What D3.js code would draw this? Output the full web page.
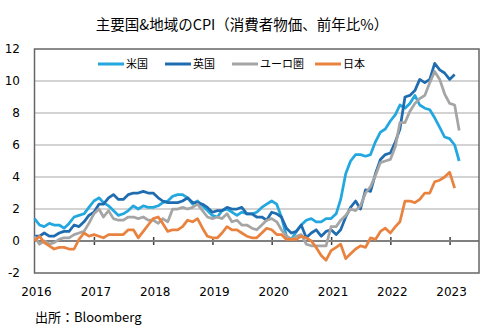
<!DOCTYPE html>
<html>
<head>
<meta charset="utf-8">
<script src="https://cdn.jsdelivr.net/npm/d3@7"></script>
<style>
  body { margin: 0; background: #fff; }
  svg { display: block; }
  .jp { font-family: "Noto Sans CJK JP", sans-serif; }
  .num { font-family: "DejaVu Sans", sans-serif; font-size: 12px; }
</style>
</head>
<body>
<div id="chart"></div>
<script>
// CPI, year-on-year %, monthly from Jan 2016
var us = [1.4, 1.0, 0.9, 1.1, 1.0, 1.0, 0.8, 1.1, 1.5, 1.6, 1.7, 2.1,
          2.5, 2.7, 2.4, 2.2, 1.9, 1.6, 1.7, 1.9, 2.2, 2.0, 2.2, 2.1,
          2.1, 2.2, 2.4, 2.5, 2.8, 2.9, 2.9, 2.7, 2.3, 2.5, 2.2, 1.9,
          1.6, 1.5, 1.9, 2.0, 1.8, 1.6, 1.8, 1.7, 1.7, 1.8, 2.1, 2.3,
          2.5, 2.3, 1.5, 0.3, 0.1, 0.6, 1.0, 1.3, 1.4, 1.2, 1.2, 1.4,
          1.4, 1.7, 2.6, 4.2, 5.0, 5.4, 5.4, 5.3, 5.4, 6.2, 6.8, 7.0,
          7.5, 7.9, 8.5, 8.3, 8.6, 9.1, 8.5, 8.3, 8.2, 7.7, 7.1, 6.5,
          6.4, 6.0, 5.0];
var uk = [0.3, 0.3, 0.5, 0.3, 0.3, 0.5, 0.6, 0.6, 1.0, 0.9, 1.2, 1.6,
          1.8, 2.3, 2.3, 2.7, 2.9, 2.6, 2.6, 2.9, 3.0, 3.0, 3.1, 3.0,
          3.0, 2.7, 2.5, 2.4, 2.4, 2.4, 2.5, 2.7, 2.4, 2.4, 2.3, 2.1,
          1.8, 1.9, 1.9, 2.1, 2.0, 2.0, 2.1, 1.7, 1.7, 1.5, 1.5, 1.3,
          1.8, 1.7, 1.5, 0.8, 0.5, 0.6, 1.0, 0.2, 0.5, 0.7, 0.3, 0.6,
          0.7, 0.4, 0.7, 1.5, 2.1, 2.5, 2.0, 3.2, 3.1, 4.2, 5.1, 5.4,
          5.5, 6.2, 7.0, 9.0, 9.1, 9.4, 10.1, 9.9, 10.1, 11.1, 10.7, 10.5,
          10.1, 10.4];
var euro = [0.3, -0.2, 0.0, -0.2, -0.1, 0.1, 0.2, 0.2, 0.4, 0.5, 0.6, 1.1,
            1.7, 2.0, 1.5, 1.9, 1.4, 1.3, 1.3, 1.5, 1.5, 1.4, 1.5, 1.3,
            1.3, 1.1, 1.4, 1.2, 2.0, 2.0, 2.1, 2.0, 2.1, 2.3, 1.9, 1.5,
            1.4, 1.5, 1.4, 1.7, 1.2, 1.3, 1.0, 1.0, 0.8, 0.7, 1.0, 1.3,
            1.4, 1.2, 0.7, 0.3, 0.1, 0.3, 0.4, -0.2, -0.3, -0.3, -0.3, -0.3,
            0.9, 0.9, 1.3, 1.6, 2.0, 1.9, 2.2, 3.0, 3.4, 4.1, 4.9, 5.0,
            5.1, 5.9, 7.4, 7.4, 8.1, 8.6, 8.9, 9.1, 9.9, 10.6, 10.1, 9.2,
            8.6, 8.5, 6.9];
var japan = [0.0, 0.3, -0.1, -0.3, -0.5, -0.4, -0.4, -0.5, -0.5, 0.1, 0.5, 0.3,
             0.4, 0.3, 0.2, 0.4, 0.4, 0.4, 0.4, 0.7, 0.7, 0.2, 0.6, 1.0,
             1.4, 1.5, 1.1, 0.6, 0.7, 0.7, 0.9, 1.3, 1.2, 1.4, 0.8, 0.3,
             0.2, 0.2, 0.5, 0.9, 0.7, 0.7, 0.5, 0.3, 0.2, 0.2, 0.5, 0.8,
             0.7, 0.4, 0.4, 0.1, 0.1, 0.1, 0.3, 0.2, 0.0, -0.4, -0.9, -1.2,
             -0.6, -0.4, -0.2, -1.1, -0.8, -0.5, -0.3, -0.4, 0.2, 0.1, 0.6, 0.8,
             0.5, 0.9, 1.2, 2.5, 2.5, 2.4, 2.6, 3.0, 3.0, 3.7, 3.8, 4.0,
             4.3, 3.3];

var seriesNames = ["米国", "英国", "ユーロ圏", "日本"];
var yearLabels = [2016, 2017, 2018, 2019, 2020, 2021, 2022, 2023];
var yTicks = [-2, 0, 2, 4, 6, 8, 10, 12];

var colors = ["#22a7df", "#1f6cb0", "#a5a5a5", "#e9823f"];
var series = [us, uk, euro, japan];

var width = 493, height = 330;
var svg = d3.select("#chart").append("svg")
    .attr("width", width)
    .attr("height", height);

var x = d3.scaleTime()
    .domain([new Date(2016, 0, 1), new Date(2023, 6, 1)])
    .range([34.5, 479]);
var y = d3.scaleLinear()
    .domain([-2, 12])
    .range([273, 49]);

function monthDate(i) { return new Date(2016, i, 1); }

// horizontal gridlines
svg.append("g").selectAll("line")
    .data(yTicks.filter(function(d) { return d > -2 && d < 12 && d !== 0; }))
    .enter().append("line")
    .attr("x1", x.range()[0]).attr("x2", x.range()[1])
    .attr("y1", function(d) { return y(d); })
    .attr("y2", function(d) { return y(d); })
    .attr("stroke", "#c4c4c4")
    .attr("stroke-width", 1.5);

// y labels
svg.append("g").selectAll("text")
    .data(yTicks)
    .enter().append("text")
    .attr("class", "num")
    .attr("x", 20)
    .attr("y", function(d) { return y(d); })
    .attr("dy", "0.36em")
    .attr("text-anchor", "end")
    .text(function(d) { return d; });

// zero axis with crossing year ticks
var xAxis = d3.axisBottom(x)
    .tickValues(yearLabels.slice(1).map(function(yr) { return new Date(yr, 0, 1); }))
    .tickSize(8)
    .tickSizeOuter(0)
    .tickFormat("");
var ax = svg.append("g")
    .attr("transform", "translate(0," + (y(0) - 4) + ")")
    .call(xAxis);
ax.select(".domain").remove();
ax.selectAll(".tick line").attr("stroke", "#404040").attr("stroke-width", 1.5);
svg.append("line")
    .attr("x1", x.range()[0]).attr("x2", x.range()[1])
    .attr("y1", y(0)).attr("y2", y(0))
    .attr("stroke", "#808080")
    .attr("stroke-width", 2);

// year labels
svg.append("g").selectAll("text")
    .data(yearLabels)
    .enter().append("text")
    .attr("class", "num")
    .attr("x", function(d) { return x(new Date(d, 0, 1)) + 2; })
    .attr("y", 292)
    .attr("dy", "0.36em")
    .attr("text-anchor", "middle")
    .text(function(d) { return d; });

// plot frame
svg.append("rect")
    .attr("x", x.range()[0]).attr("y", y(12))
    .attr("width", x.range()[1] - x.range()[0])
    .attr("height", y(-2) - y(12))
    .attr("fill", "none")
    .attr("stroke", "#666")
    .attr("stroke-width", 1.5);

// series lines
var line = d3.line()
    .x(function(d, i) { return x(monthDate(i)); })
    .y(function(d) { return y(d); });

svg.append("g").selectAll("path")
    .data(series)
    .enter().append("path")
    .attr("d", line)
    .attr("fill", "none")
    .attr("stroke", function(d, i) { return colors[i]; })
    .attr("stroke-width", 2.75)
    .attr("stroke-linejoin", "round");

// legend
var legendX = [98, 165, 232, 315];
var lg = svg.append("g").selectAll("g")
    .data(seriesNames)
    .enter().append("g")
    .attr("transform", function(d, i) { return "translate(" + legendX[i] + ",64)"; });
lg.append("line")
    .attr("x1", 0).attr("x2", 26)
    .attr("stroke", function(d, i) { return colors[i]; })
    .attr("stroke-width", 3);
lg.append("text")
    .attr("class", "jp")
    .attr("x", 28)
    .attr("dy", "0.36em")
    .attr("font-size", 11)
    .text(function(d) { return d; });

// title and source
svg.append("text")
    .attr("class", "jp")
    .attr("x", 242)
    .attr("y", 25)
    .attr("dy", "0.36em")
    .attr("text-anchor", "middle")
    .attr("font-size", 14.5)
    .text("主要国&地域のCPI（消費者物価、前年比%）");

svg.append("text")
    .attr("class", "jp")
    .attr("x", 35)
    .attr("y", 317)
    .attr("dy", "0.36em")
    .attr("font-size", 13)
    .text("出所：Bloomberg");
</script>
</body>
</html>
